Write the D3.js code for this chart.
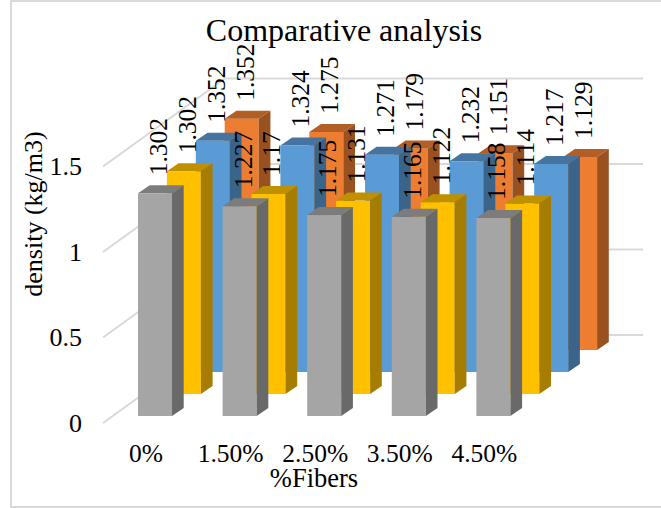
<!DOCTYPE html>
<html><head><meta charset="utf-8">
<script src="https://cdn.jsdelivr.net/npm/d3@7/dist/d3.min.js"></script>
<style>html,body{margin:0;padding:0;background:#fff}svg{display:block}text{font-family:"Liberation Serif",serif;fill:#000}</style>
</head><body><div id="chart"></div>
<script>
const categories = ["0%", "1.50%", "2.50%", "3.50%", "4.50%"];
const seriesNames = ["Gray", "Yellow", "Blue", "Orange"];
const grayValues = [1.302, 1.227, 1.175, 1.165, 1.158];
const yellowValues = [1.302, 1.17, 1.131, 1.122, 1.114];
const blueValues = [1.352, 1.324, 1.271, 1.232, 1.217];
const orangeValues = [1.352, 1.275, 1.179, 1.151, 1.129];
const yTicks = [0, 0.5, 1, 1.5];

const seriesValues = [grayValues, yellowValues, blueValues, orangeValues];
const faces = {
  Gray: ["#A5A5A5", "#7C7C7C", "#696969"],
  Yellow: ["#FFC000", "#BF9000", "#A67D00"],
  Blue: ["#5B9BD5", "#44749F", "#3A6489"],
  Orange: ["#ED7D31", "#B25E25", "#9A5120"]
};

const W = 661, H = 508;
const svg = d3.select("#chart").append("svg").attr("width", W).attr("height", H);
svg.append("path").attr("fill", "none").attr("stroke", "#d9d9d9").attr("stroke-width", 2)
  .attr("d", d3.line()([[W, 1], [11, 1], [11, 507], [W, 507]]));

const x = d3.scaleBand().domain(categories).range([138, 510.4]).paddingInner(0.598).paddingOuter(0);
const y = d3.scaleLinear().domain([0, 1.5]).range([416, 159.5]);
const depthX = d3.scalePoint().domain(seriesNames).range([0, 86.7]);
const depthY = d3.scalePoint().domain(seriesNames).range([0, -66]);
const sideW = 11.7, sideH = 8;
const bw = x.bandwidth();

// walls
const grid = svg.append("g").attr("fill", "none").attr("stroke", "#d9d9d9").attr("stroke-width", 2);
yTicks.forEach(v => {
  const y0 = y(v);
  grid.append("path").attr("d", d3.line()([[103, y0 + 7], [225, y0 - 81], [643, y0 - 81]]));
});

// bars, back to front
const bars = svg.append("g");
seriesNames.map((name, i) => i).reverse().forEach(si => {
  const name = seriesNames[si], [front, top, side] = faces[name];
  const dx = depthX(name), dy = depthY(name);
  const g = bars.append("g").attr("transform", `translate(${dx},${dy})`);
  categories.forEach((c, ci) => {
    const v = seriesValues[si][ci];
    const xl = x(c), xr = xl + bw, yt = y(v), yb = y(0);
    g.append("rect").attr("x", xl).attr("y", yt).attr("width", bw).attr("height", yb - yt).attr("fill", front);
    g.append("path").attr("fill", top).attr("d", d3.line()([[xl, yt], [xl + sideW, yt - sideH], [xr + sideW, yt - sideH], [xr, yt]]) + "Z");
    g.append("path").attr("fill", side).attr("d", d3.line()([[xr, yt], [xr + sideW, yt - sideH], [xr + sideW, yb - sideH], [xr, yb]]) + "Z");
  });
});

// data labels
const labels = svg.append("g").attr("font-size", 25.5);
seriesNames.forEach((name, si) => {
  categories.forEach((c, ci) => {
    const v = seriesValues[si][ci];
    const lx = x(c) + depthX(name) + 29;
    const ly = y(v) + depthY(name) - 18;
    labels.append("text").attr("transform", `translate(${lx},${ly}) rotate(-90)`).text(String(v));
  });
});

// value axis
const yAxis = d3.axisLeft(y).tickValues(yTicks).tickFormat(d3.format("~g")).tickSize(0).tickPadding(0);
const ya = svg.append("g").attr("transform", "translate(82,7)").call(yAxis);
ya.select(".domain").remove();
ya.selectAll("text").attr("font-size", 26).attr("font-family", '"Liberation Serif",serif').attr("fill", "#000");

// category axis
const xAxis = d3.axisBottom(x).tickSize(0).tickPadding(0);
const xa = svg.append("g").attr("transform", "translate(-9,444)").call(xAxis);
xa.select(".domain").remove();
xa.selectAll("text").attr("font-size", 25.5).attr("font-family", '"Liberation Serif",serif').attr("fill", "#000");

svg.append("text").attr("x", 344).attr("y", 41).attr("text-anchor", "middle").attr("font-size", 32).text("Comparative analysis");
svg.append("text").attr("x", 314).attr("y", 487).attr("text-anchor", "middle").attr("font-size", 26.5).text("%Fibers");
svg.append("text").attr("transform", "translate(42,214) rotate(-90)").attr("text-anchor", "middle").attr("font-size", 26).text("density (kg/m3)");
</script></body></html>
